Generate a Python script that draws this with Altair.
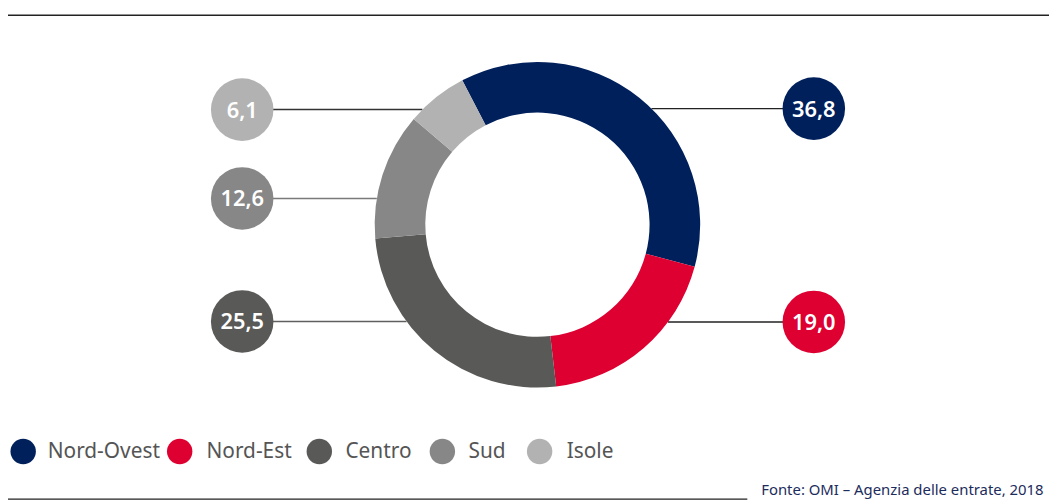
import math
import altair as alt
import pandas as pd

# ---- data ----
regions = ["Nord-Ovest", "Nord-Est", "Centro", "Sud", "Isole"]
shares = [36.8, 19.0, 25.5, 12.6, 6.1]
share_labels = ["36,8", "19,0", "25,5", "12,6", "6,1"]
colors = ["#00205B", "#DD0031", "#595957", "#878787", "#B2B2B2"]
source_text = "Fonte: OMI – Agenzia delle entrate, 2018"

# ---- layout (page pixel coordinates) ----
W, H = 1049, 494
CX, CY = 541.5, 224.5
R_OUT, R_IN = 164, 113
START = math.radians(-27.5)
callout_side = ["right", "right", "left", "left", "left"]
callout_y = [107.5, 322.5, 322, 198, 108.5]
callout_x = {"left": 244, "right": 820}
line_colors = ["#222222", "#222222", "#5f5f5f", "#7a7a7a", "#333333"]
legend_sym_x = [23.3, 181, 321.7, 445.7, 543.7]
legend_txt_x = [48, 208, 348, 472, 571]
LEGEND_Y = 453
FONT = "Noto Sans"

df = pd.DataFrame({"region": regions, "share": shares, "label": share_labels,
                   "idx": list(range(len(regions)))})
df["cx"] = [callout_x[s] for s in callout_side]
df["cy"] = callout_y
df["lx2"] = [CX + (1 if s == "right" else -1) * math.sqrt(R_OUT ** 2 - (y - CY) ** 2)
             for s, y in zip(callout_side, callout_y)]
df["lcolor"] = line_colors
df["legx"] = legend_sym_x
df["legtx"] = legend_txt_x
df["legy"] = LEGEND_Y

xs = alt.Scale(domain=[8, 8 + W], nice=False, zero=False)
ys = alt.Scale(domain=[8, 8 + H], nice=False, zero=False, reverse=True)
color_scale = alt.Scale(domain=regions, range=colors)

base = alt.Chart(df)

lines = base.mark_rule(strokeWidth=1.5).encode(
    x=alt.X("cx:Q", scale=xs, axis=None),
    x2="lx2:Q",
    y=alt.Y("cy:Q", scale=ys, axis=None),
    color=alt.Color("lcolor:N", scale=None),
)

arc = base.mark_arc(radius=R_OUT, radius2=R_IN).encode(
    theta=alt.Theta("share:Q", stack=True,
                    scale=alt.Scale(range=[START, START + 2 * math.pi])),
    color=alt.Color("region:N", scale=color_scale, legend=None),
    order=alt.Order("idx:Q"),
    x=alt.value(CX - 8),
    y=alt.value(CY - 8),
)

bubbles = base.mark_circle(size=63 ** 2, opacity=1).encode(
    x=alt.X("cx:Q", scale=xs, axis=None),
    y=alt.Y("cy:Q", scale=ys, axis=None),
    color=alt.Color("region:N", scale=color_scale, legend=None),
)

bubble_text = base.mark_text(color="white", fontSize=22, fontWeight=600, font=FONT,
                             align="center", baseline="middle", dy=1).encode(
    x=alt.X("cx:Q", scale=xs, axis=None),
    y=alt.Y("cy:Q", scale=ys, axis=None),
    text="label:N",
)

legend_sym = base.mark_circle(size=25.6 ** 2, opacity=1).encode(
    x=alt.X("legx:Q", scale=xs, axis=None),
    y=alt.Y("legy:Q", scale=ys, axis=None),
    color=alt.Color("region:N", scale=color_scale, legend=None),
)

legend_txt = base.mark_text(fontSize=21, font=FONT, color="#555555",
                            align="left", baseline="middle", dy=1).encode(
    x=alt.X("legtx:Q", scale=xs, axis=None),
    y=alt.Y("legy:Q", scale=ys, axis=None),
    text="region:N",
)

frame = pd.DataFrame({"t": [source_text]})
top_rule = alt.Chart(frame).mark_rule(color="#222222", strokeWidth=1.5).encode(
    x=alt.value(0), x2=alt.value(W), y=alt.value(13.3 - 8))
bottom_rule = alt.Chart(frame).mark_rule(color="#222222", strokeWidth=1.5).encode(
    x=alt.value(0), x2=alt.value(753 - 8), y=alt.value(501 - 8))
source = alt.Chart(frame).mark_text(align="left", baseline="alphabetic", fontSize=15,
                                    font=FONT, color="#1c2c5c").encode(
    x=alt.value(767 - 8), y=alt.value(497 - 8), text="t:N")

chart = alt.layer(lines, arc, bubbles, bubble_text, legend_sym, legend_txt,
                  top_rule, bottom_rule, source).properties(
    width=W, height=H, padding=0, autosize="none", background="white",
).configure_view(stroke=None)

chart.save("out.html", embed_options={"renderer": "svg", "actions": False})
